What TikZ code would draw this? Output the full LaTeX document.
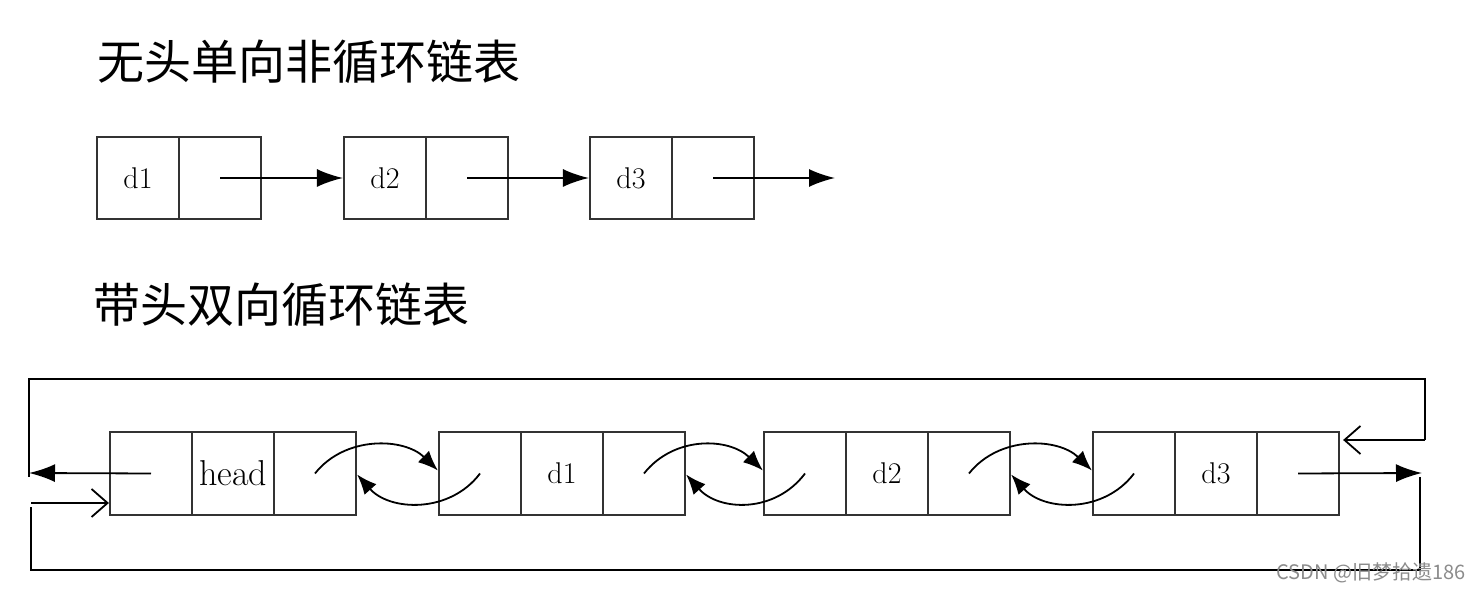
\documentclass[tikz,border=0pt]{standalone}
\usepackage{fontspec}
\newfontfamily\cjkfont{Noto Sans CJK SC}
\usetikzlibrary{arrows.meta,calc}
\begin{document}
\begin{tikzpicture}[x=0.5pt,y=-0.5pt,
  cellbox/.style={draw=black!80,line width=1.1pt,rectangle,inner sep=0pt,minimum width=41pt,minimum height=41pt,font=\fontsize{15}{17}\selectfont},
  cellboxb/.style={cellbox,minimum height=41.5pt},
  link/.style={line width=0.9pt,-{Latex[length=13pt,width=9pt]}},
  curvelink/.style={line width=0.9pt,-{Latex[length=10pt,width=8pt]}},
  openlink/.style={line width=0.9pt,-{Straight Barb[length=8pt,width=14pt,line width=0.9pt]}},
  frame/.style={line width=0.9pt},
  title/.style={anchor=west,inner sep=0pt,font=\cjkfont\fontsize{23.5}{26}\selectfont}]
\useasboundingbox[fill=white] (0,0) rectangle (1480,592);

% titles
\node[title] (t1) at (97,62) {无头单向非循环链表};
\node[title] (t2) at (93,305) {带头双向循环链表};

% top row: singly linked list
\node[cellbox] (a1) at (138,178) {d1};
\node[cellbox] (p1) at (220,178) {};
\node[cellbox] (a2) at (385,178) {d2};
\node[cellbox] (p2) at (467,178) {};
\node[cellbox] (a3) at (631,178) {d3};
\node[cellbox] (p3) at (713,178) {};
\coordinate (end1) at (835,178);
\draw[link] (p1.center) -- (a2.west);
\draw[link] (p2.center) -- (a3.west);
\draw[link] (p3.center) -- (end1);

% bottom row: doubly linked circular list
\node[cellboxb] (h1) at (151,473.5) {};
\node[cellboxb,font=\fontsize{18}{20}\selectfont] (h2) at (233,473.5) {head};
\node[cellboxb] (h3) at (315,473.5) {};
\node[cellboxb] (b11) at (480,473.5) {};
\node[cellboxb] (b12) at (562,473.5) {d1};
\node[cellboxb] (b13) at (644,473.5) {};
\node[cellboxb] (b21) at (805,473.5) {};
\node[cellboxb] (b22) at (887,473.5) {d2};
\node[cellboxb] (b23) at (969,473.5) {};
\node[cellboxb] (b31) at (1134,473.5) {};
\node[cellboxb] (b32) at (1216,473.5) {d3};
\node[cellboxb] (b33) at (1298,473.5) {};

% curved next/prev links
\foreach \p/\n in {h3/b11,b13/b21,b23/b31}{
  \draw[curvelink] (\p.center) .. controls ($(\p.center)+(30,-38)$) and ($(\n.west)+(-34,-36)$) .. ($(\n.west)+(0,-3)$);
  \draw[curvelink] (\n.center) .. controls ($(\n.center)+(-30,40)$) and ($(\p.east)+(33,38)$) .. ($(\p.east)+(0,1)$);
}

% outer frame: tail -> head (top) and head prev (left)
\coordinate (lb) at (29,477);
\coordinate (lt) at (29,379);
\coordinate (rt) at (1425,379);
\coordinate (rm) at (1425,440);
\coordinate (la) at (29,473);
\draw[link] (h1.center) -- (la);
\draw[frame] (lb) -- (lt) -- (rt) -- (rm);
\draw[openlink] (rm) -- ($(b33.east |- rm)+(3,0)$);

% bottom frame
\coordinate (ra) at (1422,473);
\coordinate (rb0) at (1420,477);
\coordinate (rb) at (1420,570);
\coordinate (lbb) at (31,570);
\coordinate (lm) at (31,507);
\coordinate (lm2) at (31,503);
\draw[link] (b33.center) -- (ra);
\draw[frame] (rb0) -- (rb) -- (lbb) -- (lm);
\draw[openlink] (lm2) -- (h1.west |- lm2);

% watermark
\node[anchor=east,inner sep=0pt,text=black!45,font=\cjkfont\fontsize{10}{12}\selectfont] (wm) at (1466,573) {CSDN @旧梦拾遗186};
\end{tikzpicture}
\end{document}
